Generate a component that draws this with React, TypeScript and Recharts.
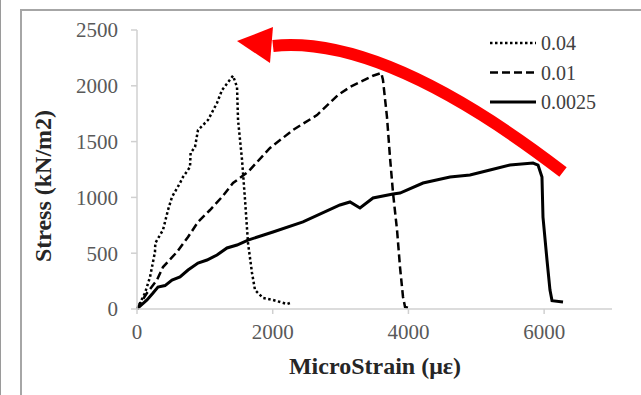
import { LineChart, Line, XAxis, YAxis, Label } from 'recharts'

// stress-strain curves (x = microstrain, y = stress kN/m2)
const series004 = [
  { x: 0, y: 0 }, { x: 15, y: 18 }, { x: 118, y: 143 }, { x: 192, y: 287 }, { x: 265, y: 511 },
  { x: 270, y: 591 }, { x: 383, y: 708 }, { x: 457, y: 887 }, { x: 516, y: 1004 }, { x: 634, y: 1129 },
  { x: 678, y: 1183 }, { x: 781, y: 1272 }, { x: 790, y: 1398 }, { x: 855, y: 1452 }, { x: 899, y: 1604 },
  { x: 1046, y: 1693 }, { x: 1179, y: 1846 }, { x: 1253, y: 1962 }, { x: 1415, y: 2090 }, { x: 1474, y: 1989 },
  { x: 1489, y: 1693 }, { x: 1548, y: 1335 }, { x: 1592, y: 977 }, { x: 1636, y: 591 }, { x: 1695, y: 323 },
  { x: 1739, y: 170 }, { x: 1857, y: 99 }, { x: 2004, y: 81 }, { x: 2211, y: 45 }, { x: 2284, y: 60 },
]

const series001 = [
  { x: 0, y: 0 }, { x: 15, y: 18 }, { x: 147, y: 143 }, { x: 295, y: 260 }, { x: 383, y: 376 },
  { x: 589, y: 511 }, { x: 752, y: 645 }, { x: 899, y: 780 }, { x: 1076, y: 887 }, { x: 1253, y: 1004 },
  { x: 1415, y: 1129 }, { x: 1636, y: 1228 }, { x: 1960, y: 1443 }, { x: 2299, y: 1604 }, { x: 2653, y: 1738 },
  { x: 2962, y: 1917 }, { x: 3139, y: 1989 }, { x: 3478, y: 2090 }, { x: 3600, y: 2115 }, { x: 3625, y: 2052 },
  { x: 3684, y: 1720 }, { x: 3728, y: 1362 }, { x: 3773, y: 1039 }, { x: 3832, y: 708 }, { x: 3876, y: 376 },
  { x: 3920, y: 108 }, { x: 3950, y: 18 }, { x: 4008, y: 9 },
]

const series00025 = [
  { x: 0, y: 0 }, { x: 15, y: 9 }, { x: 147, y: 81 }, { x: 236, y: 143 }, { x: 309, y: 197 },
  { x: 413, y: 210 }, { x: 516, y: 260 }, { x: 634, y: 287 }, { x: 752, y: 349 }, { x: 899, y: 412 },
  { x: 1032, y: 439 }, { x: 1179, y: 484 }, { x: 1326, y: 547 }, { x: 1474, y: 573 }, { x: 1636, y: 618 },
  { x: 2004, y: 690 }, { x: 2446, y: 780 }, { x: 2991, y: 932 }, { x: 3139, y: 959 }, { x: 3286, y: 905 },
  { x: 3478, y: 995 }, { x: 3773, y: 1030 }, { x: 3876, y: 1039 }, { x: 4215, y: 1129 }, { x: 4613, y: 1183 },
  { x: 4907, y: 1201 }, { x: 5202, y: 1245 }, { x: 5497, y: 1290 }, { x: 5836, y: 1308 }, { x: 5910, y: 1290 },
  { x: 5968, y: 1183 }, { x: 5983, y: 824 }, { x: 6042, y: 439 }, { x: 6086, y: 170 }, { x: 6116, y: 75 },
  { x: 6278, y: 63 },
]

const X_TICKS = [0, 2000, 4000, 6000]
const Y_TICKS = [0, 500, 1000, 1500, 2000, 2500]
const X_DOMAIN = [0, 7000]
const Y_DOMAIN = [0, 2500]

// red annotation arrow, in data units: tail, control, base of head; head tip and corners
const ARROW_BODY = [{ x: 6278, y: 1228 }, { x: 3640, y: 2460 }, { x: 2004, y: 2357 }]
const ARROW_HEAD = [{ x: 1474, y: 2401 }, { x: 2004, y: 2527 }, { x: 1960, y: 2204 }]

const SERIES = [
  { name: '0.04', data: series004, dash: '2.5 2.5', width: 2.5 },
  { name: '0.01', data: series001, dash: '8 4', width: 2.5 },
  { name: '0.0025', data: series00025, dash: undefined, width: 3 },
]

const W = 641
const H = 395
const M = { top: 30, right: 29, left: 77, bottom: 56 }
const Y_AXIS_W = 60
const X_AXIS_H = 30
const PLOT = {
  left: M.left + Y_AXIS_W,
  top: M.top,
  width: W - M.left - Y_AXIS_W - M.right,
  height: H - M.top - M.bottom - X_AXIS_H,
}

const FONT = 'Liberation Serif, Times New Roman, serif'
const GRID = '#d0d0d0'
const TICK_STYLE = { fill: '#595959', fontSize: 21, style: { fontFamily: FONT } }

const px = (p: { x: number; y: number }) => [
  PLOT.left + ((p.x - X_DOMAIN[0]) / (X_DOMAIN[1] - X_DOMAIN[0])) * PLOT.width,
  PLOT.top + PLOT.height - ((p.y - Y_DOMAIN[0]) / (Y_DOMAIN[1] - Y_DOMAIN[0])) * PLOT.height,
]

const Overlay = () => {
  const [t, c, b] = ARROW_BODY.map(px)
  const head = ARROW_HEAD.map(px)
  return (
    <svg width={W} height={H} style={{ position: 'absolute', left: 0, top: 0, pointerEvents: 'none' }}>
      {SERIES.map((s, i) => (
        <g key={s.name}>
          <line x1={490} x2={536} y1={43 + i * 29.5} y2={43 + i * 29.5} stroke="#000" strokeWidth={s.width} strokeDasharray={s.dash} />
          <text x={541} y={43 + i * 29.5} dominantBaseline="central" style={{ fontFamily: FONT }} fontSize={20} fill="#404040">
            {s.name}
          </text>
        </g>
      ))}
      <path d={`M${t[0]},${t[1]} Q${c[0]},${c[1]} ${b[0]},${b[1]}`} fill="none" stroke="#ff0000" strokeWidth={12} />
      <polygon points={head.map((p) => p.join(',')).join(' ')} fill="#ff0000" />
    </svg>
  )
}

export default function App() {
  return (
    <div style={{ position: 'fixed', left: 0, top: 0, width: W, height: H, background: '#fff', overflow: 'hidden', fontFamily: FONT }}>
      <div style={{ position: 'absolute', left: 0, top: 0, width: 1, height: H, background: '#9a9a9a' }} />
      <div style={{ position: 'absolute', left: 20, top: 9, width: W - 20, height: H - 9, borderLeft: '2px solid #a6a6a6', borderTop: '2px solid #a6a6a6', boxSizing: 'border-box' }} />
      <div style={{ position: 'absolute', left: 0, top: 0 }}>
        <LineChart width={W} height={H} margin={M} style={{ fontFamily: FONT }}>
          <XAxis
            type="number"
            dataKey="x"
            domain={X_DOMAIN}
            ticks={X_TICKS}
            height={X_AXIS_H}
            stroke={GRID}
            strokeWidth={1.5}
            tickSize={5}
            tickMargin={10}
            tick={TICK_STYLE}
            allowDuplicatedCategory={false}
          >
            <Label
              content={() => (
                <text x={375} y={366} textAnchor="middle" dominantBaseline="central" style={{ fontFamily: FONT }} fontWeight="bold" fontSize={24} fill="#262626">
                  MicroStrain  (με)
                </text>
              )}
            />
          </XAxis>
          <YAxis
            type="number"
            domain={Y_DOMAIN}
            ticks={Y_TICKS}
            width={Y_AXIS_W}
            stroke={GRID}
            strokeWidth={1.5}
            tickSize={6}
            tickMargin={13}
            tick={TICK_STYLE}
          >
            <Label
              content={() => (
                <text x={43} y={186} transform="rotate(-90 43 186)" textAnchor="middle" dominantBaseline="central" style={{ fontFamily: FONT }} fontWeight="bold" fontSize={24} fill="#262626">
                  Stress (kN/m2)
                </text>
              )}
            />
          </YAxis>
          {SERIES.map((s) => (
            <Line
              key={s.name}
              data={s.data}
              dataKey="y"
              name={s.name}
              type="linear"
              stroke="#000"
              strokeWidth={s.width}
              strokeDasharray={s.dash}
              dot={false}
              activeDot={false}
              isAnimationActive={false}
            />
          ))}
        </LineChart>
      </div>
      <Overlay />
    </div>
  )
}
